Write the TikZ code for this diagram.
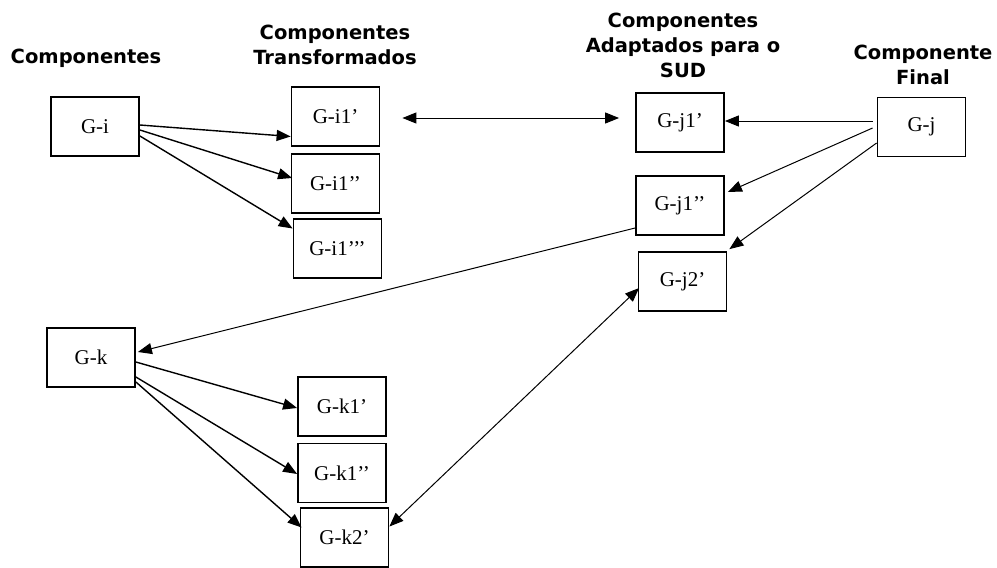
\documentclass[tikz,border=0pt]{standalone}
\usepackage{fontspec}
\setmainfont{Liberation Serif}
\newfontfamily\headfont{DejaVu Sans}
\usetikzlibrary{arrows.meta}
\tikzset{
  comp/.style={draw, line width=1.8pt, minimum width=88pt, minimum height=59pt, inner sep=0pt,
    font=\fontsize{21}{23}\selectfont},
  head/.style={align=center, font=\headfont\bfseries\fontsize{19.5}{25}\selectfont},
  arr/.style={-{Triangle[length=14pt,width=11pt]}, line width=1pt},
  darr/.style={{Triangle[length=14pt,width=11pt]}-{Triangle[length=14pt,width=11pt]}, line width=1pt}
}
\begin{document}
\begin{tikzpicture}[x=1pt, y=-1pt]
  \useasboundingbox (0,0) rectangle (997,568);
  \node[head] (hcomp)  at (86,58)   {Componentes};
  \node[head] (htrans) at (335,45)  {Componentes\\Transformados};
  \node[head] (hadapt) at (683,45)  {Componentes\\Adaptados para o\\SUD};
  \node[head] (hfinal) at (923,65)  {Componente\\Final};

  \node[comp] (gi)   at (95,126.5)   {G-i};
  \node[comp] (gi1a) at (335.5,116.5) {G-i1’};
  \node[comp] (gi1b) at (335.5,183.5) {G-i1’’};
  \node[comp] (gi1c) at (337.5,248.5) {G-i1’’’};
  \node[comp] (gj1a) at (680,122.5)  {G-j1’};
  \node[comp] (gj1b) at (680,205.5)  {G-j1’’};
  \node[comp] (gj2)  at (682.5,281.5) {G-j2’};
  \node[comp] (gj)   at (921.5,127)  {G-j};
  \node[comp] (gk)   at (91,357.5)   {G-k};
  \node[comp] (gk1a) at (342,406.5)  {G-k1’};
  \node[comp] (gk1b) at (342,473)    {G-k1’’};
  \node[comp] (gk2)  at (344.5,537.5) {G-k2’};

  \draw[arr, line width=1.4pt] ([yshift=1.5pt]gi.east) -- ([yshift=-20pt]gi1a.west);
  \draw[arr, line width=1.4pt] ([yshift=-3.5pt]gi.east) -- ([xshift=1.5pt,yshift=5.5pt]gi1b.west);
  \draw[arr, line width=1.4pt] ([yshift=-9.5pt]gi.east) -- ([yshift=20pt]gi1c.west);
  \draw[darr] ([xshift=22pt,yshift=-1.5pt]gi1a.east) -- ([xshift=-16pt,yshift=4.5pt]gj1a.west);
  \draw[arr] ([xshift=-4pt,yshift=6pt]gj.west) -- ([yshift=1.5pt]gj1a.east);
  \draw[arr] ([xshift=-4pt,yshift=-1pt]gj.west) -- ([xshift=3pt,yshift=13.5pt]gj1b.east);
  \draw[arr] ([yshift=-16pt]gj.west) -- ([xshift=2pt,yshift=2pt]gj2.north east);
  \draw[arr] ([yshift=-22.5pt]gj1b.west) -- ([xshift=2pt,yshift=5.5pt]gk.east);
  \draw[darr] ([yshift=11pt]gk2.east) -- ([xshift=1.5pt,yshift=-6.5pt]gj2.west);
  \draw[arr, line width=1.4pt] ([yshift=-4.5pt]gk.east) -- ([yshift=-1.5pt]gk1a.west);
  \draw[arr, line width=1.4pt] ([yshift=-19.5pt]gk.east) -- ([yshift=-1pt]gk1b.west);
  \draw[arr, line width=1.4pt] ([yshift=-24.5pt]gk.east) -- ([xshift=2pt,yshift=10pt]gk2.west);
\end{tikzpicture}
\end{document}
